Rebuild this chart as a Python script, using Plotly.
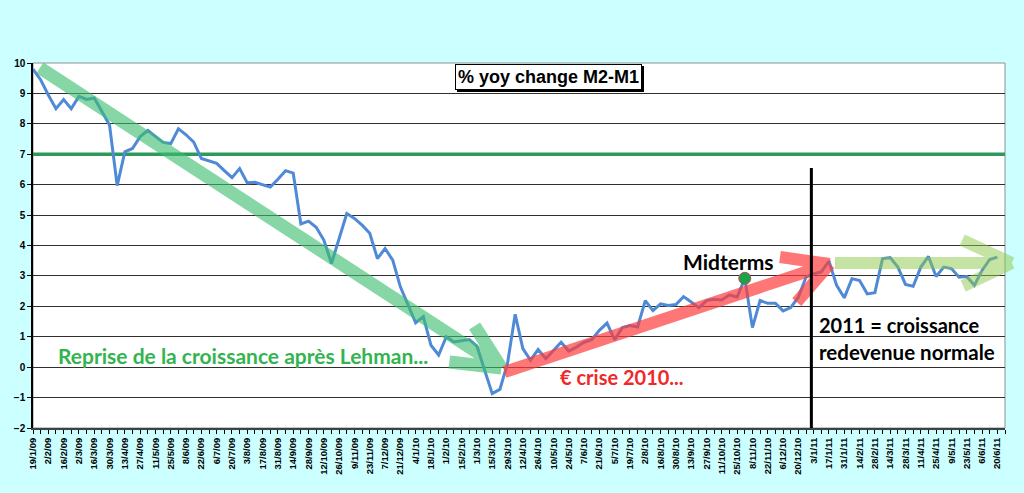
import pandas as pd
import plotly.graph_objects as go

# weekly observations, 19/1/09 -> 20/6/11
dates = pd.date_range('2009-01-19', '2011-06-20', freq='7D')
date_labels = [f"{d.day}/{d.month}/{d.strftime('%y')}" for d in dates]

# % yoy change M2-M1
m2_m1 = [
    9.80, 9.45, 8.95, 8.50, 8.80, 8.50, 8.90, 8.80, 8.85, 8.42,
    7.96, 5.97, 7.08, 7.19, 7.58, 7.78, 7.58, 7.39, 7.35, 7.84,
    7.64, 7.40, 6.86, 6.78, 6.70, 6.46, 6.23, 6.53, 6.06, 6.08,
    6.00, 5.92, 6.18, 6.46, 6.38, 4.71, 4.80, 4.60, 4.18, 3.41,
    4.23, 5.05, 4.89, 4.67, 4.40, 3.57, 3.90, 3.52, 2.64, 2.04,
    1.46, 1.66, 0.72, 0.40, 1.00, 0.83, 0.87, 0.91, 0.69, -0.10,
    -0.87, -0.73, 0.12, 1.74, 0.61, 0.23, 0.58, 0.28, 0.56, 0.82,
    0.53, 0.66, 0.82, 0.90, 1.21, 1.45, 0.90, 1.30, 1.37, 1.32,
    2.19, 1.86, 2.08, 2.03, 2.06, 2.32, 2.14, 1.95, 2.19, 2.23,
    2.21, 2.38, 2.30, 2.92, 1.30, 2.19, 2.10, 2.10, 1.85, 1.96,
    2.30, 2.96, 3.07, 3.13, 3.49, 2.69, 2.28, 2.91, 2.85, 2.41,
    2.45, 3.57, 3.60, 3.29, 2.72, 2.66, 3.29, 3.64, 2.98, 3.29,
    3.24, 2.96, 2.98, 2.69, 3.18, 3.54, 3.62,
]
threshold = 7
midterms_idx = 93
x_idx = list(range(len(m2_m1)))

fig = go.Figure()

# 7% reference line
fig.add_trace(go.Scatter(
    x=[0, len(m2_m1)], y=[threshold, threshold], mode='lines',
    line=dict(color='#2E9A5A', width=3.5), hoverinfo='skip', showlegend=False
))

fig.add_trace(go.Scatter(
    x=x_idx, y=m2_m1, mode='lines',
    line=dict(color='#4F8AD6', width=3), showlegend=False
))

fig.add_trace(go.Scatter(
    x=[midterms_idx], y=[m2_m1[midterms_idx]], mode='markers',
    marker=dict(size=12, color='#1AA34A', line=dict(color='#B05050', width=1)),
    showlegend=False
))

# hand drawn arrows (separate strokes so the tips stay blunt)
fig.add_shape(type='path', xref='x', yref='y',
              path='M 0.9,9.84 L 61.2,-0.03 M 57.7,1.35 L 61.2,-0.03 M 54.4,0.17 L 61.2,-0.03',
              line=dict(color='rgba(60,190,110,0.62)', width=13))
fig.add_shape(type='path', xref='x', yref='y',
              path='M 61.6,-0.16 L 104.1,3.39 M 97.6,3.62 L 104.1,3.39 M 99.8,2.14 L 104.1,3.39',
              line=dict(color='rgba(255,60,60,0.7)', width=12))
fig.add_shape(type='path', xref='paper', yref='paper',
              path='M 0.825,0.452 L 1.005,0.452 M 0.956,0.515 L 1.007,0.452 M 0.957,0.389 L 1.007,0.452',
              line=dict(color='rgba(140,200,70,0.5)', width=12))

# 2011 separator
fig.add_shape(type='line', xref='x', yref='y', x0=101.7, x1=101.7, y0=-2, y1=6.55,
              line=dict(color='black', width=3))

# plot frame
fig.add_shape(type='rect', xref='paper', yref='paper', x0=0, x1=1, y0=0, y1=1,
              line=dict(color='#909090', width=1), layer='below')

note_font = 'Lato'
fig.add_annotation(x=3.0, y=0.40, xref='x', yref='y', xanchor='left', showarrow=False,
                   text='<b>Reprise de la croissance après Lehman...</b>',
                   font=dict(family=note_font, size=21, color='#33B44F'))
fig.add_annotation(x=68.6, y=-0.32, xref='x', yref='y', xanchor='left', showarrow=False,
                   text='<b>€ crise 2010...</b>',
                   font=dict(family=note_font, size=20, color='#F02828'))
fig.add_annotation(x=84.7, y=3.49, xref='x', yref='y', xanchor='left', showarrow=False,
                   text='<b>Midterms</b>',
                   font=dict(family=note_font, size=21, color='black'))
fig.add_annotation(x=102.5, y=1.40, xref='x', yref='y', xanchor='left', showarrow=False,
                   text='<b>2011 = croissance</b>',
                   font=dict(family=note_font, size=20, color='black'))
fig.add_annotation(x=102.5, y=0.51, xref='x', yref='y', xanchor='left', showarrow=False,
                   text='<b>redevenue normale</b>',
                   font=dict(family=note_font, size=20.5, color='black'))

# title box with drop shadow
title_text = '<b>% yoy change M2-M1</b>'
for shift, fc, bg in [(2, 'black', 'black'), (0, 'black', 'white')]:
    fig.add_annotation(x=0.530, y=0.996, xref='paper', yref='paper', showarrow=False,
                       text=title_text, xshift=shift, yshift=-shift,
                       font=dict(family='Liberation Sans', size=18, color=fc),
                       bgcolor=bg, bordercolor='black', borderwidth=1, borderpad=2)

fig.update_layout(
    width=1024, height=493,
    margin=dict(l=33, r=19, t=63, b=65),
    paper_bgcolor='#CCFFFF',
    plot_bgcolor='white',
    showlegend=False,
    font=dict(family='Liberation Sans', color='black'),
)
fig.update_xaxes(
    range=[0, len(m2_m1)],
    tickvals=x_idx[::2], ticktext=[f'<b>{t}</b>' for t in date_labels[::2]],
    tickangle=-90, tickfont=dict(size=9.5, family='Liberation Sans'),
    ticks='outside', ticklen=4, tickcolor='black',
    minor=dict(dtick=1, tick0=0, ticks='outside', ticklen=4, tickcolor='black', showgrid=False),
    showgrid=False, zeroline=False,
    showline=True, linecolor='#404040', linewidth=2,
)
fig.update_yaxes(
    range=[-2, 10], dtick=1,
    tickfont=dict(size=10, family='Liberation Sans'),
    tickprefix='<b>', ticksuffix='</b>',
    ticks='outside', ticklen=4, tickcolor='black',
    showgrid=True, gridcolor='#303030', gridwidth=1, zeroline=False,
    showline=True, linecolor='black', linewidth=1.5,
)

fig.write_html('out.html', config={'displayModeBar': False},
               post_script="document.body.style.margin='0';document.body.style.backgroundColor='#CCFFFF';")
